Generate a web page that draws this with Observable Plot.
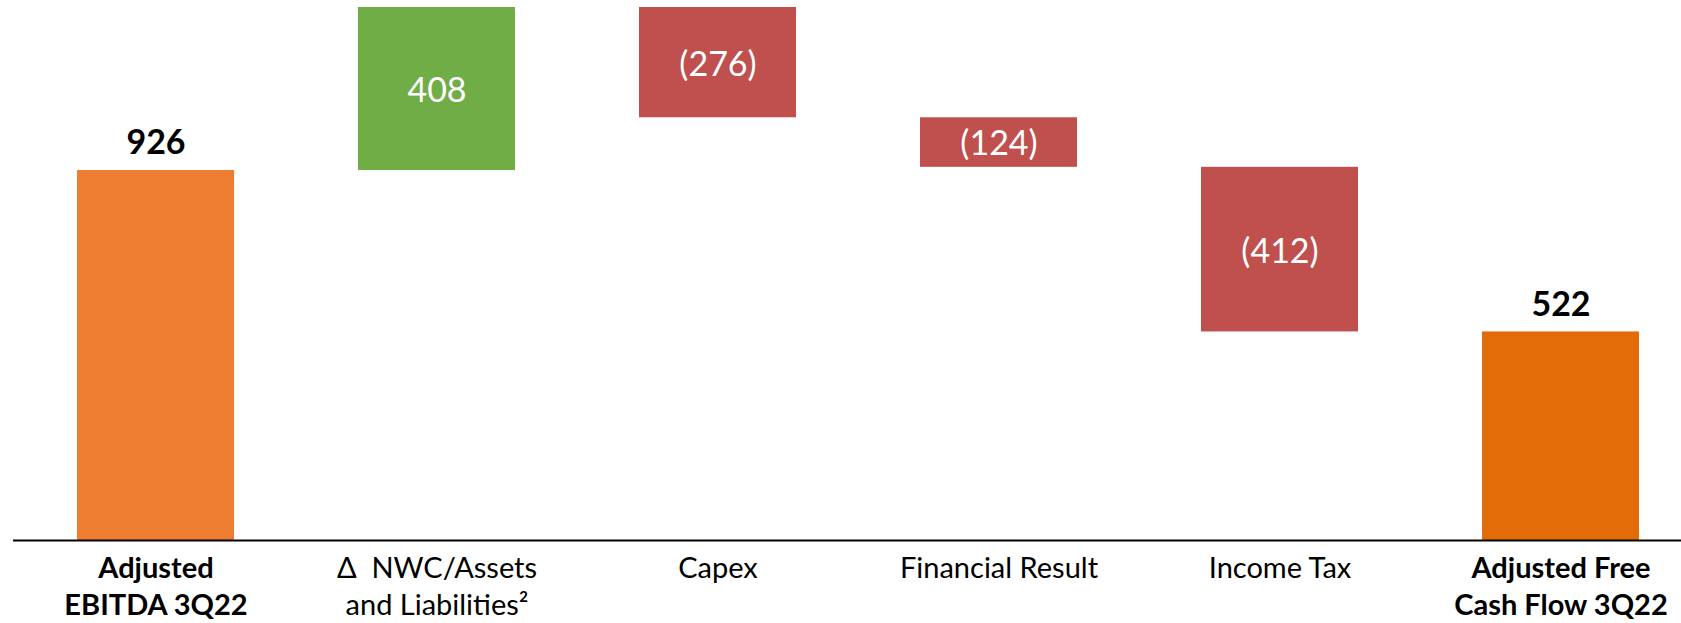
<!DOCTYPE html>
<html>
<head>
<meta charset="utf-8">
<script src="https://cdn.jsdelivr.net/npm/d3@7"></script>
<script src="https://cdn.jsdelivr.net/npm/@observablehq/plot@0.6"></script>
<style>
  html, body { margin: 0; padding: 0; background: #fff; }
  #chart svg { display: block; }
</style>
</head>
<body>
<div id="chart"></div>
<script>
// ---- data ----
const categories = [
  "Adjusted\nEBITDA 3Q22",
  "Δ\u00a0 NWC/Assets\nand Liabilities²",
  "Capex",
  "Financial Result",
  "Income Tax",
  "Adjusted Free\nCash Flow 3Q22"
];
const values = [926, 408, -276, -124, -412, 522];
const isTotal = [true, false, false, false, false, true];

// ---- build waterfall table ----
let running = 0;
const rows = categories.map((cat, i) => {
  const v = values[i];
  let y1, y2, kind;
  if (isTotal[i]) {
    y1 = 0; y2 = v; running = v;
    kind = i === 0 ? "start" : "end";
  } else {
    y1 = running; y2 = running + v; running = y2;
    kind = v >= 0 ? "increase" : "decrease";
  }
  const label = v < 0 ? `(${Math.abs(v)})` : `${v}`;
  return {cat, v, y1, y2, mid: (y1 + y2) / 2, kind, label, total: isTotal[i]};
});
const yMax = d3.max(rows, d => Math.max(d.y1, d.y2));

const font = "Lato, 'Open Sans', sans-serif";
const catSize = 29;
const catLH = 37 / catSize;

const chart = Plot.plot({
  width: 1681,
  height: 623,
  marginTop: 7,
  marginBottom: 83,
  marginLeft: 13,
  marginRight: 0,
  style: {background: "#fff", fontFamily: font},
  x: {domain: categories, range: [0, 1716], paddingInner: 0.442, paddingOuter: 0.27, axis: null},
  y: {domain: [0, yMax], axis: null},
  color: {
    domain: ["start", "increase", "decrease", "end"],
    range: ["#ED7D31", "#70AD47", "#C0504D", "#E36C09"]
  },
  marks: [
    Plot.barY(rows, {x: "cat", y1: "y1", y2: "y2", fill: "kind"}),
    Plot.ruleY([0], {stroke: "#000", strokeWidth: 2}),
    // total value labels (above bars)
    Plot.text(rows.filter(d => d.total), {
      x: "cat", y: "y2", text: "label", fill: "#000",
      fontSize: 34, fontWeight: "bold", lineAnchor: "middle", dy: -27, fontFamily: font
    }),
    // delta value labels (inside bars)
    Plot.text(rows.filter(d => !d.total), {
      x: "cat", y: "mid", text: "label", fill: "#fff",
      fontSize: 34, lineAnchor: "middle", dy: 2, fontFamily: font
    }),
    // category labels
    Plot.text(rows.filter(d => d.total), {
      x: "cat", y: () => 0, text: "cat", fill: "#000",
      fontSize: catSize, fontWeight: "bold", lineAnchor: "top", lineHeight: catLH, dy: 11, fontFamily: font
    }),
    Plot.text(rows.filter(d => !d.total), {
      x: "cat", y: () => 0, text: "cat", fill: "#000",
      fontSize: catSize, lineAnchor: "top", lineHeight: catLH, dy: 11, fontFamily: font
    })
  ]
});
document.getElementById("chart").append(chart);
</script>
</body>
</html>
